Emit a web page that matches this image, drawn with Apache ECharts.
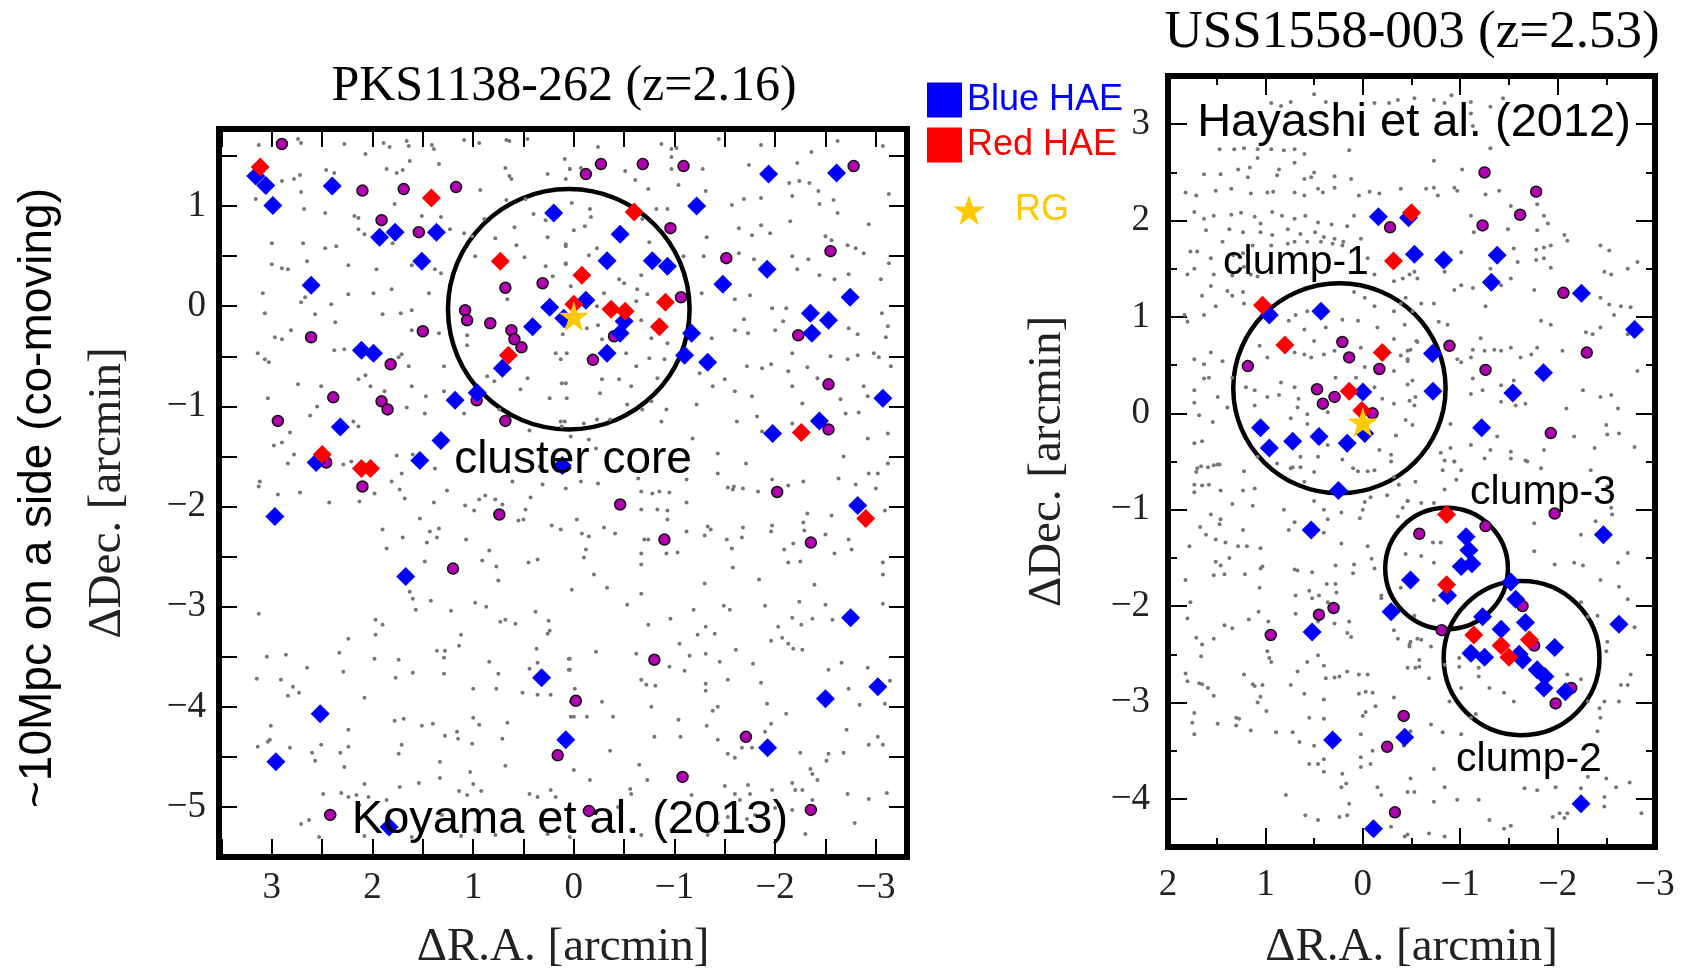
<!DOCTYPE html>
<html>
<head>
<meta charset="utf-8">
<title>HAE maps</title>
<script src="https://cdn.jsdelivr.net/npm/echarts@6/dist/echarts.min.js"></script>
<style>
  html, body { margin: 0; padding: 0; background: #fff; }
  #chart { width: 1690px; height: 976px; }
</style>
</head>
<body>
<div id="chart"></div>
<script>
// offsets in arcmin, [dRA, dDec]
// PKS1138-262 field
var leftGray = [
  [3.13,1.61],[2.74,1.67],[2.71,1.63],[2.28,1.62],[2.07,1.52],[1.89,1.63],[1.83,1.59],[1.66,1.65],[1.64,1.60],[1.41,1.61],[1.39,1.57],[1.09,1.66],[0.94,1.63],[0.67,1.66],[0.64,1.65],[0.46,1.67],[0.09,1.47],[0.04,1.37],[1.63,1.45],[1.34,1.42],[1.86,1.37],[1.76,1.33],[1.70,1.36],[2.46,1.36],[2.38,1.33],[2.72,1.31],[2.78,1.27],[2.90,1.25],[0.68,1.38],[0.64,1.30],[0.62,1.27],[0.26,1.32],[0.08,1.27],[3.16,1.07],[2.71,1.14],[2.68,0.97],[2.47,0.93],[0.93,1.16],[0.48,1.07],[0.67,1.06],[1.78,1.02],[2.18,0.90],[2.14,0.88],[1.51,0.90],[1.32,0.89],[0.89,0.87],[0.40,0.92],[0.28,0.86],[3.00,0.63],[2.69,0.63],[2.47,0.58],[2.36,0.60],[2.14,0.77],[2.08,0.72],[1.80,0.63],[1.23,0.77],[1.09,0.73],[1.01,0.70],[0.78,0.68],[0.59,0.79],[0.57,0.61],[0.08,0.62],[0.26,0.69],[0.49,0.49],[3.00,0.42],[2.90,0.38],[2.84,0.37],[2.65,0.45],[2.24,0.41],[1.96,0.37],[1.61,0.41],[1.38,0.37],[1.32,0.33],[0.98,0.50],[0.28,0.40],[0.08,0.42],[3.09,0.13],[2.71,0.04],[2.67,0.09],[2.24,0.12],[1.99,0.13],[1.81,0.17],[1.44,0.13],[0.66,0.07],[0.21,0.30],[3.07,-0.07],[2.57,-0.08],[2.41,0.02],[1.90,-0.08],[1.72,-0.07],[1.61,-0.04],[1.61,-0.24],[1.34,-0.27],[2.37,-0.16],[2.81,-0.24],[2.97,-0.31],[2.90,-0.33],[1.06,-0.29],[0.11,-0.28],[3.14,-0.47],[3.07,-0.53],[3.03,-0.56],[2.38,-0.44],[2.28,-0.43],[1.74,-0.51],[1.71,-0.48],[1.64,-0.60],[2.07,-0.69],[1.29,-0.60],[1.06,-0.39],[0.18,-0.47],[0.13,-0.53],[0.46,-0.72],[0.08,-0.77],[2.74,-0.78],[2.51,-0.80],[2.14,-0.73],[2.02,-0.80],[1.88,-0.85],[1.61,-0.80],[1.47,-0.90],[1.29,-0.85],[0.86,-0.70],[0.79,-0.75],[0.53,-0.83],[0.24,-0.92],[3.04,-0.92],[2.55,-1.00],[2.62,-1.09],[2.19,-1.15],[2.14,-1.20],[2.82,-1.26],[2.90,-1.36],[2.98,-1.39],[1.66,-1.01],[1.48,-1.07],[1.09,-1.07],[0.74,-1.03],[0.13,-1.15],[0.12,-1.20],[0.44,-1.24],[0.34,-1.60],[2.78,-1.48],[2.84,-1.57],[2.29,-1.58],[2.21,-1.55],[1.76,-1.49],[1.60,-1.48],[1.38,-1.62],[1.71,-1.67],[1.81,-1.75],[3.12,-1.75],[3.13,-1.80],[1.73,-1.83],[0.61,-1.75],[0.31,-1.78],
  [-0.24,1.59],[-0.87,1.62],[-0.97,1.57],[-0.97,1.49],[-1.02,1.58],[-1.44,1.67],[-1.86,1.61],[-2.36,1.54],[-2.62,1.65],[-3.07,1.60],[0.04,1.37],[-0.07,1.38],[-0.51,1.35],[-0.61,1.26],[-0.74,1.17],[-0.97,1.37],[-1.04,1.21],[-1.28,1.37],[-1.74,1.41],[-2.22,1.43],[-2.34,1.23],[-2.43,1.15],[-2.14,1.23],[-2.24,1.25],[-3.13,1.12],[0.02,1.03],[-0.16,0.97],[-0.17,0.89],[-0.82,0.97],[-0.93,0.97],[-1.31,1.15],[-1.57,1.01],[-1.69,1.07],[-1.86,1.08],[-2.17,1.10],[-2.44,1.02],[-2.58,1.06],[-2.62,0.93],[0.00,0.76],[-0.11,0.80],[-0.23,0.58],[0.08,0.60],[-0.68,0.87],[-0.75,0.64],[-1.32,0.69],[-1.64,0.78],[-1.77,0.71],[-1.86,0.81],[-1.95,0.73],[-2.15,0.85],[-2.50,0.70],[-2.56,0.66],[-2.72,0.61],[-2.80,0.58],[-2.88,0.53],[-2.93,0.82],[0.08,0.43],[-0.15,0.51],[-0.45,0.27],[-0.50,0.23],[-0.67,0.31],[-0.63,0.17],[-1.09,0.50],[-1.29,0.50],[-1.64,0.53],[-1.79,0.47],[-2.17,0.50],[-2.22,0.37],[-2.33,0.47],[-2.44,0.31],[-2.59,0.27],[-2.73,0.32],[-3.05,0.27],[-3.13,0.43],[0.03,0.20],[-0.30,0.13],[-0.23,0.00],[-0.62,0.05],[-0.73,0.12],[-1.27,0.13],[-1.60,0.07],[-1.75,0.11],[-1.69,-0.13],[-1.97,-0.02],[-2.11,-0.02],[-2.08,-0.15],[-3.06,-0.07],[-3.12,-0.20],[-3.10,-0.31],[-2.73,-0.22],[-2.82,-0.28],[0.09,-0.20],[-0.13,-0.22],[-0.24,-0.19],[-0.28,-0.33],[-0.67,-0.14],[-0.77,-0.32],[-0.93,-0.37],[-1.37,-0.32],[-1.60,-0.24],[-1.73,-0.27],[-2.00,-0.24],[-2.17,-0.47],[-2.55,-0.50],[-2.72,-0.53],[-2.82,-0.49],[-2.98,-0.47],[-3.03,-0.51],[0.07,-0.47],[-0.52,-0.47],[-0.62,-0.60],[-0.75,-0.52],[-0.90,-0.53],[-1.25,-0.67],[-1.38,-0.80],[-1.50,-0.73],[-1.60,-0.85],[-1.72,-0.60],[-1.87,-0.62],[-1.96,-0.58],[-2.13,-0.65],[-2.17,-0.80],[-2.32,-0.61],[-2.42,-0.72],[-2.65,-0.93],[-2.92,-0.90],[-2.88,-0.80],[-3.15,-0.60],[0.12,-0.77],[0.07,-0.92],[-0.28,-0.73],[-0.45,-0.73],[-0.57,-0.80],[-0.26,-0.87],[-0.83,-0.72],[-0.53,-0.98],[-0.68,-1.03],[-0.77,-0.95],[-0.92,-1.03],[-0.87,-1.15],[-1.22,-0.98],[-1.62,-1.15],[-1.77,-0.90],[-2.27,-0.97],[-2.70,-1.07],[-2.83,-1.06],[-3.12,-1.27],[0.09,-1.15],[-0.10,-1.17],[-0.23,-1.13],[-0.36,-1.13],[0.03,-1.30],[-0.15,-1.33],[-0.22,-1.42],[-1.18,-1.32],[-1.43,-1.47],[-1.71,-1.57],[-1.82,-1.10],[-1.87,-1.25],[-2.17,-1.17],[-2.68,-1.50],[-2.92,-1.32],[-3.02,-1.67],[-3.12,-1.57],[-0.07,-1.75],[-0.24,-1.77],[-0.64,-1.72],[-0.78,-1.87],[-1.12,-1.73],[-1.43,-1.67],[-1.53,-1.81],[-1.58,-1.83],[-1.68,-1.82],[-1.97,-1.73],[-2.13,-1.79],[-2.28,-1.75],[-2.63,-1.72],[-2.80,-1.78],[-2.93,-1.67],
  [2.94,-1.88],[2.72,-1.86],[2.43,-1.96],[2.13,-1.95],[1.98,-1.87],[1.68,-1.92],[1.39,-1.96],[1.26,-1.84],[1.08,-1.99],[0.99,-2.04],[0.94,-1.93],[0.88,-1.89],[0.78,-1.93],[0.71,-1.98],[0.55,-2.14],[0.50,-2.13],[0.48,-2.03],[0.43,-1.91],[0.22,-2.19],[0.13,-2.23],[0.08,-1.82],[1.90,-2.23],[1.86,-2.42],[1.70,-2.31],[1.53,-2.12],[1.46,-2.36],[1.43,-2.25],[1.36,-2.31],[1.34,-2.22],[1.07,-2.33],[1.48,-2.55],[0.84,-2.44],[0.91,-2.54],[0.77,-2.60],[0.75,-2.74],[0.45,-2.56],[0.36,-2.53],[1.63,-2.85],[1.60,-2.92],[1.57,-3.03],[1.42,-2.94],[1.22,-3.04],[0.98,-2.96],[0.87,-3.00],[3.13,-3.07],[1.97,-3.13],[1.90,-3.18],[1.97,-3.28],[2.24,-3.32],[1.12,-3.28],[1.14,-3.39],[0.73,-3.15],[0.68,-3.13],[0.58,-3.17],[0.38,-3.05],[0.25,-3.14],[0.24,-3.24],[0.26,-3.27],[3.05,-3.50],[2.86,-3.48],[2.65,-3.61],[2.33,-3.46],[2.29,-3.65],[1.98,-3.52],[1.74,-3.53],[1.36,-3.44],[1.28,-3.44],[1.29,-3.51],[0.84,-3.55],[0.37,-3.42],[0.36,-3.56],[0.44,-3.62],[0.04,-3.52],[0.04,-3.63],[3.15,-3.72],[2.91,-3.73],[2.84,-3.89],[2.79,-3.80],[2.73,-3.86],[2.08,-3.91],[1.77,-3.71],[1.60,-3.66],[1.29,-3.67],[0.75,-3.67],[1.00,-3.82],[0.77,-3.82],[0.51,-3.86],[0.36,-3.88],[0.23,-3.88],[0.03,-3.95],[3.01,-4.19],[3.02,-4.33],[3.04,-4.35],[3.14,-4.40],[2.82,-4.41],[2.60,-4.46],[2.57,-4.54],[2.51,-4.38],[2.28,-4.60],[2.32,-4.46],[2.24,-4.40],[2.24,-4.23],[1.78,-4.14],[1.69,-4.12],[1.51,-4.19],[1.40,-4.17],[1.28,-4.29],[1.16,-4.25],[1.15,-4.32],[1.01,-4.37],[1.00,-4.11],[0.94,-4.18],[0.71,-4.32],[0.66,-4.16],[0.03,-4.10],[1.74,-4.47],[1.71,-4.38],[1.33,-4.55],[1.33,-4.71],[1.03,-4.65],[0.68,-4.59],[2.08,-4.77],[1.73,-4.80],[1.54,-4.76],[1.14,-4.84],[1.06,-4.88],[1.00,-4.77],[0.92,-4.84],[0.44,-4.87],[0.36,-4.90],[0.23,-4.83],[0.18,-4.90],[2.49,-4.87],[2.31,-4.86],[2.24,-4.90],[2.16,-4.88],[2.04,-4.90],[1.86,-4.93],[2.13,-4.98],[2.71,-5.17],[2.63,-5.13],[2.53,-5.30],[2.08,-5.29],[1.61,-5.30],[1.12,-5.29],[0.98,-5.23],[0.78,-5.28],[0.26,-5.27],[0.04,-5.30],[1.31,-5.08],[1.01,-5.03],
  [-0.67,-1.85],[-0.85,-1.85],[-0.95,-1.86],[-1.12,-1.96],[-1.59,-1.80],[-1.83,-1.85],[-3.00,-1.82],[-0.03,-2.13],[-0.08,-2.27],[-0.15,-2.30],[-0.30,-2.21],[-0.41,-2.27],[-0.67,-2.03],[-0.83,-2.03],[-0.93,-2.04],[-0.93,-2.13],[-0.70,-2.33],[-0.74,-2.33],[-0.67,-2.47],[-0.67,-2.58],[-0.92,-2.47],[-1.03,-2.46],[-1.12,-2.25],[-1.30,-2.29],[-1.33,-2.20],[-1.36,-2.23],[-1.52,-2.33],[-1.57,-2.42],[-1.67,-2.31],[-1.68,-2.21],[-1.97,-2.19],[-1.96,-2.25],[-2.09,-2.43],[-2.18,-2.37],[-2.28,-2.16],[-2.32,-2.07],[-2.29,-2.24],[-2.50,-2.28],[-2.56,-2.09],[-2.59,-2.47],[-2.73,-2.33],[-2.76,-2.43],[-3.07,-2.56],[-3.07,-2.68],[-3.09,-2.04],[-0.12,-2.43],[-0.10,-2.51],[-0.20,-2.68],[0.02,-2.83],[-0.33,-2.81],[-0.67,-2.87],[-0.53,-2.98],[-0.74,-3.18],[-0.96,-3.12],[-1.19,-3.03],[-1.30,-2.77],[-1.49,-2.99],[-1.55,-3.03],[-1.58,-2.61],[-1.84,-2.73],[-1.90,-2.99],[-2.13,-2.56],[-2.25,-2.55],[-2.24,-2.95],[-2.39,-2.78],[-2.37,-3.12],[-2.50,-2.98],[-2.57,-3.13],[-2.17,-3.11],[-2.26,-3.18],[-2.03,-3.20],[-3.07,-2.97],[-0.22,-3.45],[0.05,-3.52],[0.05,-3.63],[-0.62,-3.47],[-0.95,-3.60],[-1.10,-3.64],[-1.05,-3.37],[-1.23,-3.28],[-1.31,-3.20],[-1.40,-3.27],[-1.15,-3.49],[-1.31,-3.47],[-1.45,-3.55],[-1.53,-3.73],[-1.61,-3.43],[-1.78,-3.57],[-1.86,-3.76],[-1.96,-3.34],[-2.07,-3.31],[-2.13,-3.37],[-2.18,-3.42],[-2.27,-3.43],[-2.53,-3.63],[-2.66,-3.56],[-2.73,-3.82],[-2.92,-3.61],[-3.14,-3.74],[-3.09,-3.97],[-2.84,-3.98],[-0.01,-3.82],[0.00,-4.10],[-0.13,-4.10],[-0.28,-3.95],[-0.39,-4.10],[-0.77,-4.00],[-0.67,-3.73],[-0.72,-3.78],[-0.81,-3.79],[-1.31,-3.77],[-1.31,-3.84],[-1.43,-4.00],[-1.38,-4.04],[-1.04,-4.13],[-1.32,-4.19],[-1.92,-3.97],[-2.11,-4.07],[-1.96,-4.17],[-1.90,-4.25],[-1.67,-4.41],[-1.77,-4.41],[-1.53,-4.47],[-1.60,-4.51],[-2.25,-4.46],[-2.53,-4.47],[-2.51,-4.54],[-2.68,-4.46],[-2.71,-4.23],[-3.02,-4.30],[-3.07,-4.38],[-2.93,-4.38],[0.00,-4.63],[-0.16,-4.73],[-0.36,-4.44],[-0.65,-4.58],[-0.73,-4.73],[-0.56,-4.82],[-0.57,-4.87],[-0.44,-5.00],[-0.80,-4.30],[-1.06,-4.30],[-1.43,-4.33],[-1.17,-4.88],[-1.50,-4.79],[-1.60,-4.87],[-1.73,-4.78],[-1.75,-4.87],[-1.65,-4.93],[-1.97,-4.83],[-2.17,-4.76],[-2.20,-4.83],[-2.27,-4.83],[-2.35,-4.62],[-2.37,-4.67],[-2.42,-4.73],[-2.37,-4.93],[-2.72,-4.87],[-2.93,-4.92],[-3.11,-4.86],[-2.79,-5.16],[-2.30,-5.27],[-0.57,-5.23],[-0.67,-5.28],[-0.97,-5.23],[-1.33,-5.28],[-1.43,-5.16],[-1.53,-5.10],[-1.72,-5.12],[-1.80,-5.08],[-2.00,-5.01],[-2.17,-5.03]
];
var leftPurple = [
  [2.90,1.62],[2.10,1.155],[1.69,1.17],[1.17,1.19],[1.91,0.86],[1.54,0.74],[0.68,0.185],[0.31,0.23],[1.08,-0.04],[1.06,-0.14],[0.83,-0.17],[0.62,-0.24],[0.59,-0.33],[0.52,-0.41],[2.61,-0.31],[1.50,-0.25],[1.82,-0.58],[2.39,-0.91],[1.91,-0.95],[1.85,-1.03],[0.965,-0.94],[2.94,-1.145],[0.68,-1.145],[2.46,-1.56],[2.10,-1.80],
  [-0.12,1.32],[-0.27,1.42],[-0.685,1.42],[-1.09,1.40],[-2.78,1.40],[-0.96,0.78],[-1.515,0.48],[-2.55,0.55],[-1.065,0.09],[-0.40,-0.30],[-0.19,-0.535],[-2.23,-0.29],[-2.53,-0.78],[-2.53,-1.23],[-2.02,-1.855],
  [0.74,-2.08],[1.20,-2.62],[0.16,-4.485],[2.42,-5.08],
  [-0.46,-1.98],[-0.90,-2.33],[-2.355,-2.36],[-0.80,-3.53],[-0.02,-3.94],[-1.71,-4.30],[-1.08,-4.70],[-0.15,-5.04],[-2.355,-5.03]
];
var leftBlue = [
  [3.16,1.30],[3.06,1.205],[2.99,1.006],[2.40,1.20],[1.93,0.69],[1.775,0.74],[1.365,0.74],[1.51,0.45],[2.61,0.21],[0.20,0.93],[0.24,-0.01],[0.10,-0.12],[0.41,-0.205],[0.71,-0.62],[2.11,-0.44],[1.99,-0.47],[1.18,-0.94],[0.96,-0.865],[2.32,-1.205],[2.56,-1.56],[1.53,-1.54],[1.32,-1.34],[0.115,-1.59],
  [-0.46,0.72],[-0.33,0.455],[-0.78,0.455],[-0.93,0.40],[-1.22,1.00],[-1.48,0.22],[-1.92,0.37],[-1.935,1.32],[-2.61,1.33],[-2.745,0.09],[-2.35,-0.07],[-2.53,-0.14],[-2.365,-0.27],[-0.12,0.06],[-0.50,-0.15],[-0.46,-0.27],[-0.33,-0.47],[-1.17,-0.27],[-1.10,-0.49],[-1.33,-0.56],[-3.07,-0.92],[-1.975,-1.27],[-2.44,-1.145],
  [2.97,-2.10],[1.67,-2.70],[0.32,-3.71],[2.52,-4.07],[2.96,-4.55],[0.08,-4.33],[1.835,-5.20],
  [-2.82,-1.99],[-2.75,-3.11],[-3.02,-3.80],[-2.50,-3.92],[-1.925,-4.41]
];
var leftRed = [
  [3.115,1.39],[1.415,1.08],[0.73,0.45],[0.65,-0.49],[2.50,-1.48],[2.11,-1.62],[2.02,-1.62],[0.00,0.02],
  [-0.60,0.94],[-0.08,0.31],[-0.37,-0.03],[-0.51,-0.05],[-0.91,0.04],[-0.85,-0.205],[-2.26,-1.26],[-2.90,-2.12]
];
var leftRG = [[0.0,-0.10]];
var leftRings = [[0.05,-0.03,1.2]];   // [dRA, dDec, radius]

// USS1558-003 field
var rightGray = [
  [0.50,3.31],[0.94,3.22],[0.84,3.19],[0.74,3.23],[0.38,3.23],[-0.12,3.22],[-0.27,3.22],[-0.36,3.25],[1.47,2.74],[1.32,2.74],[1.22,2.75],[1.08,2.74],[0.94,2.74],[0.81,2.73],[0.70,2.74],[0.60,2.69],[1.08,2.65],[0.86,2.53],[0.70,2.60],[1.28,2.53],[1.16,2.55],[0.50,2.50],[0.88,2.47],[0.53,2.45],[0.29,2.46],[0.14,2.73],[1.63,2.48],[1.46,2.48],[1.18,2.45],[0.60,2.43],[1.82,2.29],[1.71,2.26],[1.51,2.31],[1.35,2.33],[1.15,2.28],[0.98,2.29],[0.92,2.30],[0.70,2.29],[0.60,2.26],[0.46,2.33],[0.41,2.29],[0.29,2.34],[0.04,2.26],[-0.07,2.30],[-0.17,2.28],[-0.39,2.33],[1.73,2.09],[1.63,2.02],[1.53,2.05],[1.35,2.06],[1.25,2.08],[1.11,2.04],[1.05,1.97],[0.93,2.09],[0.83,2.05],[0.70,2.02],[0.59,2.05],[0.46,1.98],[0.32,1.96],[0.12,2.43],[0.09,2.05],[0.16,1.94],[1.61,1.90],[1.37,1.91],[1.23,1.88],[1.05,1.88],[0.93,1.85],[0.77,1.91],[0.64,1.86],[0.49,1.88],[0.40,1.83],[0.29,1.81],[0.20,1.78],[0.02,1.81],[1.77,1.68],[1.70,1.68],[1.44,1.78],[1.56,1.61],[1.33,1.64],[1.23,1.66],[1.13,1.74],[0.94,1.74],[0.77,1.76],[0.70,1.78],[0.57,1.78],[0.43,1.78],[0.31,1.76],[0.21,1.74],[-0.05,1.61],[1.80,1.44],[1.73,1.50],[1.53,1.44],[1.34,1.43],[1.22,1.52],[1.15,1.44],[1.08,1.42],[1.56,1.32],[1.39,1.27],[1.23,1.26],[-0.12,1.44],[-0.32,1.37],[-0.41,1.40],[-0.48,1.44],[-0.53,1.47],[-0.56,1.40],[1.83,1.02],[1.80,0.95],[1.65,1.22],[1.63,1.02],[1.51,1.11],[1.34,1.22],[1.22,1.14],[0.09,1.26],[-0.02,1.20],[-0.12,1.11],[-0.32,1.06],[-0.39,1.14],[-0.51,1.06],[1.73,0.56],[1.63,0.51],[1.56,0.63],[1.44,0.54],[1.63,0.36],[1.58,0.37],[1.34,0.37],[1.73,0.24],[1.49,0.17],[1.39,0.06],[1.20,0.27],[1.11,0.08],[1.73,0.11],[1.68,-0.02],[1.73,-0.31],[1.65,-0.29],[1.54,-0.09],[1.49,-0.53],[1.70,-0.57],[1.59,-0.56],[0.76,0.96],[0.69,1.02],[0.57,1.06],[0.60,0.87],[0.50,0.75],[0.38,0.89],[0.21,0.97],[0.05,0.96],[-0.15,0.89],[-0.32,0.77],[-0.43,0.92],[-0.46,0.65],[-0.55,0.75],[1.06,0.70],[0.98,0.58],[0.70,0.63],[0.60,0.61],[0.53,0.58],[0.40,0.61],[0.29,0.65],[0.02,0.68],[-0.02,0.48],[-0.32,0.44],[-0.46,0.56],[-0.51,0.34],[-0.48,0.13],[-0.32,0.10],[-0.34,-0.23],[-0.29,-0.43],[-0.51,-0.12],[1.11,0.24],[0.98,0.17],[0.84,0.32],[0.86,0.19],[0.70,0.27],[0.67,0.06],[0.66,0.15],[0.57,-0.01],[0.36,0.01],[0.28,0.37],[0.07,0.37],[-0.12,0.27],[-0.20,0.15],[0.74,-0.05],[0.57,-0.11],[0.46,-0.45],[0.36,-0.33],[0.21,-0.48],[0.05,-0.60],[-0.17,-0.38],[-0.12,-0.59],[1.08,-0.45],[0.88,-0.52],[0.74,-0.57],[0.64,-0.45],[1.22,-0.60],
  [-0.53,3.27],[-0.73,3.25],[-0.84,3.22],[-0.91,3.30],[-1.11,3.23],[-1.31,3.18],[-1.11,3.11],[-1.13,2.98],[-1.31,2.75],[-1.44,3.27],[-0.73,2.62],[-1.02,2.53],[-0.77,2.26],[-0.65,2.33],[-0.73,2.34],[-0.94,2.34],[-0.97,2.31],[-1.26,2.27],[-1.40,2.31],[-1.52,2.15],[-1.79,2.17],[-1.86,2.05],[-1.90,1.97],[-1.79,1.90],[-1.66,2.05],[-1.49,1.91],[-1.14,1.88],[-1.11,2.05],[-1.01,1.67],[-0.84,1.47],[-1.55,1.71],[-1.78,1.70],[-1.86,1.72],[-1.93,1.74],[-2.07,1.85],[-2.10,1.79],[-2.44,1.74],[-2.53,1.69],[-1.59,1.57],[-1.78,1.59],[-1.86,1.61],[-1.93,1.51],[-1.52,1.40],[-1.31,1.50],[-1.01,1.33],[-0.94,1.28],[-1.13,1.30],[-1.42,1.33],[-1.76,1.28],[-2.48,1.47],[-2.55,1.44],[-2.72,1.50],[-2.82,1.57],[-0.44,1.20],[-0.60,1.14],[-0.73,1.14],[-1.26,1.11],[-2.44,1.20],[-2.53,1.13],[-2.65,1.11],[-2.75,1.10],[-2.58,1.02],[-0.78,0.95],[-0.87,0.92],[-0.56,0.74],[-0.49,0.66],[-0.39,0.60],[-0.46,0.54],[-0.97,0.56],[-1.01,0.53],[-1.13,0.66],[-1.25,0.65],[-1.35,0.66],[-1.42,0.65],[-1.21,0.78],[-1.11,0.58],[-1.52,0.68],[-1.62,0.58],[-1.73,0.61],[-1.79,0.68],[-1.83,0.96],[-1.93,0.92],[-2.05,0.65],[-2.29,0.84],[-2.36,0.82],[-2.44,0.89],[-2.72,0.82],[-0.46,0.30],[-0.54,0.17],[-0.53,0.08],[-0.44,-0.07],[-1.13,0.36],[-1.11,0.20],[-1.23,0.24],[-1.42,0.29],[-1.55,0.34],[-1.42,0.12],[-1.57,0.08],[-1.67,0.10],[-2.09,0.05],[-2.26,0.24],[-2.44,0.17],[-2.55,0.19],[-2.62,0.05],[-2.82,0.44],[-0.90,-0.11],[-1.11,-0.33],[-0.90,-0.36],[-0.80,-0.41],[-0.84,-0.49],[-0.94,-0.50],[-1.31,-0.38],[-1.38,-0.24],[-1.52,-0.40],[-1.69,-0.50],[-1.86,-0.38],[-2.17,-0.24],[-2.38,-0.36],[-2.50,-0.12],[-2.51,-0.22],[-2.63,-0.21],[-2.79,-0.35],
  [1.71,-0.61],[1.66,-0.55],[1.53,-0.54],[1.47,-0.53],[1.73,-0.74],[1.73,-0.82],[1.65,-0.75],[1.58,-0.74],[1.46,-0.80],[1.23,-0.80],[1.11,-0.78],[1.34,-0.94],[1.13,-0.96],[0.72,-0.56],[0.64,-0.56],[0.50,-0.61],[0.60,-0.71],[0.10,-0.57],[-0.05,-0.60],[-0.29,-0.50],[-0.32,-0.66],[-0.37,-0.74],[-0.08,-0.87],[-0.02,-0.92],[-0.25,-0.85],[1.56,-1.05],[1.46,-1.10],[1.67,-1.18],[1.47,-1.15],[1.61,-1.26],[1.51,-1.31],[1.41,-1.34],[1.23,-1.21],[1.28,-1.38],[1.19,-1.38],[1.05,-1.40],[1.78,-1.38],[0.81,-1.00],[0.76,-1.21],[0.70,-1.13],[0.50,-0.91],[0.40,-1.00],[0.36,-1.10],[0.22,-1.03],[0.03,-1.09],[0.00,-1.00],[-0.41,-0.98],[-0.46,-0.91],[-0.36,-1.07],[0.40,-1.24],[0.22,-1.35],[-0.05,-1.38],[-0.09,-1.51],[1.51,-1.54],[1.37,-1.50],[1.46,-1.58],[1.42,-1.67],[1.53,-1.68],[1.82,-1.73],[1.21,-1.67],[1.05,-1.61],[1.03,-1.59],[1.06,-1.81],[0.70,-1.62],[0.67,-1.63],[0.52,-1.65],[0.37,-1.77],[0.28,-1.77],[0.09,-1.57],[0.10,-1.66],[0.28,-1.58],[-0.12,-1.61],[-0.19,-1.89],[-0.19,-1.92],[-0.39,-1.81],[1.77,-1.96],[1.80,-2.13],[1.71,-2.33],[1.65,-2.40],[1.53,-2.34],[1.42,-2.20],[1.34,-2.23],[1.17,-2.14],[1.07,-2.06],[0.97,-2.16],[1.66,-2.52],[0.69,-1.89],[0.55,-1.84],[0.52,-1.92],[0.45,-1.89],[0.36,-1.96],[0.27,-1.86],[0.69,-2.08],[0.46,-2.16],[0.29,-2.18],[0.14,-2.16],[0.12,-2.32],[0.16,-2.28],[-0.32,-2.25],[-0.36,-2.34],[-0.48,-2.40],[-0.49,-2.37],[-0.56,-2.34],[-0.58,-2.63],[-0.46,-2.64],[1.82,-2.70],[1.80,-2.78],[1.68,-2.80],[1.65,-2.81],[1.59,-2.85],[1.53,-2.93],[1.22,-2.71],[1.13,-2.81],[1.11,-2.83],[1.03,-2.82],[1.05,-2.94],[0.98,-2.47],[0.96,-2.54],[0.94,-2.58],[1.08,-3.00],[0.99,-3.09],[0.74,-2.82],[0.67,-2.68],[0.57,-2.58],[0.46,-2.51],[0.40,-2.62],[0.38,-2.75],[0.29,-2.74],[0.24,-2.73],[0.16,-2.68],[0.04,-2.71],[-0.05,-2.71],[0.04,-2.91],[-0.03,-2.89],[-0.10,-2.90],[-0.13,-3.04],[-0.32,-2.95],[0.60,-2.91],[0.40,-2.97],[1.73,-3.11],[1.75,-3.21],[1.73,-3.33],[1.49,-3.22],[1.30,-3.16],[1.27,-3.17],[1.30,-3.24],[1.15,-3.29],[0.89,-3.31],[0.72,-3.31],[0.65,-3.41],[0.55,-3.16],[0.40,-3.17],[0.50,-3.45],[0.55,-3.64],[0.46,-3.64],[0.40,-3.59],[0.40,-3.72],[0.22,-3.88],[0.17,-3.84],[0.21,-3.74],[0.00,-3.14],[-0.03,-3.10],[0.02,-3.33],[-0.10,-3.50],[0.02,-3.57],[0.02,-3.67],[-0.08,-3.64],[-0.15,-3.88],[-0.19,-3.96],[-0.46,-3.93],[0.14,-4.05],[0.24,-4.19],[0.16,-4.17],[0.59,-4.17],[0.46,-4.22],[0.79,-3.96],[-0.29,-4.29],[-0.43,-4.39],
  [-0.94,-0.50],[-1.25,-0.47],[-1.52,-0.47],[-1.67,-0.49],[-0.82,-0.59],[-1.01,-0.59],[-0.54,-0.71],[-0.84,-0.79],[-0.96,-0.69],[-0.73,-0.93],[-0.46,-0.91],[-0.60,-0.93],[-1.76,-1.14],[-1.97,-1.57],[-1.76,-1.43],[-2.24,-1.26],[-2.26,-1.58],[-2.17,-1.55],[-2.44,-1.73],[-2.62,-1.55],[-2.72,-1.45],[-2.63,-1.80],[-2.72,-1.93],[-2.41,-2.10],[-2.31,-2.11],[-2.79,-2.22],[-2.51,-2.37],[-2.50,-2.47],[-2.75,-2.71],[-2.65,-2.82],[-2.72,-2.82],[-2.63,-2.99],[-2.48,-2.99],[-2.24,-2.76],[-2.31,-2.99],[-2.10,-2.71],[-0.44,-1.46],[-0.60,-1.48],[-0.72,-1.34],[-0.80,-1.34],[-0.73,-1.55],[-0.73,-1.94],[-0.53,-2.10],[-0.60,-2.35],[-0.48,-2.42],[-0.70,-2.42],[-0.58,-2.56],[-0.54,-2.64],[-0.68,-2.75],[-0.84,-2.61],[-0.99,-2.54],[-0.99,-2.63],[-1.19,-2.64],[-1.19,-2.73],[-1.30,-2.85],[-1.45,-2.90],[-1.55,-2.99],[-0.89,-2.99],[-1.01,-2.85],[-0.70,-3.23],[-0.49,-3.30],[-0.82,-3.31],[-1.01,-3.33],[-1.11,-3.16],[-1.16,-3.12],[-0.42,-3.45],[-0.73,-3.69],[-0.49,-3.79],[-0.53,-3.93],[-0.84,-3.88],[-0.73,-4.03],[-0.97,-4.01],[-1.19,-4.01],[-1.30,-4.22],[-1.45,-4.31],[-1.52,-4.28],[-1.95,-4.19],[-2.07,-4.20],[-2.10,-4.15],[-2.24,-3.89],[-2.48,-3.98],[-2.60,-3.88],[-2.48,-4.08],[-2.50,-3.79],[-2.74,-3.83],[-2.31,-3.77],[-1.98,-3.88],[-1.79,-3.91],[-1.66,-3.89],[-2.02,-4.15],[-0.84,-4.39],[-0.68,-4.36],[-0.46,-4.37],[-2.86,-4.15],[-2.41,-3.30],[-2.44,-3.16],[-2.43,-3.06],[-1.83,-0.57],[-2.39,-1.12],[-2.34,-0.59],[-2.51,-0.76],[-2.55,-0.98],[-2.56,-1.05],[-2.24,-1.96]
];
var rightPurple = [
  [-0.28,1.93],[0.21,0.74],[0.14,0.58],[-0.17,0.46],[1.18,0.49],[0.47,0.25],[0.29,0.17],[0.41,0.10],[-0.10,0.00],
  [-1.25,2.50],[-1.78,2.30],[-1.615,2.06],[-1.23,1.95],[-2.06,1.25],[-0.89,0.70],[-1.26,0.45],[-2.30,0.63],[-1.93,-0.205],
  [-0.58,-1.25],[0.30,-2.02],[0.45,-2.09],[0.945,-2.30],[-0.42,-3.14],[-0.25,-3.46],[-0.33,-4.14],
  [-1.26,-1.17],[-1.97,-1.04],[-1.64,-2.00],[-0.81,-2.25],[-1.76,-2.41],[-1.98,-3.01],[-2.14,-2.85]
];
var rightBlue = [
  [-0.16,2.04],[-0.53,1.65],[-0.47,2.03],[0.43,1.06],[0.96,1.02],[0.00,0.22],[1.05,-0.15],[0.96,-0.36],[0.72,-0.29],[0.45,-0.24],[0.16,-0.31],[-0.02,-0.21],
  [-0.83,1.59],[-1.38,1.64],[-1.32,1.36],[-2.245,1.245],[-2.79,0.87],[-0.715,0.62],[-1.855,0.42],[-0.72,0.23],[-1.54,0.21],[-1.22,-0.15],
  [0.25,-0.80],[0.53,-1.21],[-0.49,-1.73],[-0.29,-2.06],[0.52,-2.27],[0.31,-3.39],[-0.43,-3.36],[-0.11,-4.31],
  [-1.06,-1.28],[-1.09,-1.42],[-1.12,-1.56],[-1.01,-1.59],[-0.87,-1.89],[-1.52,-1.75],[-1.57,-1.93],[-1.23,-2.11],[-1.42,-2.24],[-1.67,-2.17],[-1.97,-2.43],[-1.11,-2.49],[-1.25,-2.53],[-1.605,-2.50],[-1.64,-2.56],[-1.79,-2.66],[-1.87,-2.73],[-1.86,-2.85],[-2.08,-2.89],[-2.63,-2.19],[-2.47,-1.26],[-2.24,-4.05]
];
var rightRed = [
  [-0.50,2.08],[-0.315,1.58],[1.03,1.12],[0.80,0.71],[-0.20,0.63],[0.14,0.23],[0.01,0.03],
  [-0.86,-1.05],[-0.86,-1.78],[-1.14,-2.30],[-1.71,-2.35],[-1.42,-2.41],[-1.50,-2.53]
];
var rightRG = [[0.0,-0.09]];
var rightRings = [[0.24,0.26,1.09],[-0.86,-1.61,0.63],[-1.63,-2.54,0.80]];

// ticks and labels
var leftXTicks = [-3,-2.5,-2,-1.5,-1,-0.5,0,0.5,1,1.5,2,2.5,3,3.5];
var leftXLabels = [-3,-2,-1,0,1,2,3];
var leftYTicks = [-5,-4.5,-4,-3.5,-3,-2.5,-2,-1.5,-1,-0.5,0,0.5,1,1.5];
var leftYLabels = [-5,-4,-3,-2,-1,0,1];
var rightXMajor = [-3,-2,-1,0,1,2];
var rightXMinor = [-2.5,-1.5,-0.5,0.5,1.5];
var rightYMajor = [-4,-3,-2,-1,0,1,2,3];
var rightYMinor = [-3.5,-2.5,-1.5,-0.5,0.5,1.5,2.5];

var SERIF = 'Liberation Serif';
var SANS = 'Liberation Sans';
var starPath = 'path://M50,0 L61.2,34.5 L97.6,34.5 L68.2,55.9 L79.4,90.5 L50,69.1 L20.6,90.5 L31.8,55.9 L2.4,34.5 L38.8,34.5 Z';

function minusFmt(v) {
  return v < 0 ? '\u2212' + Math.abs(v) : String(v);
}

function makeAxis(grid, pos, min, max, inverse, ticks, len, labels, margin, name, nameGap) {
  var a = {
    type: 'value', gridIndex: grid, position: pos, min: min, max: max, inverse: inverse,
    axisLine: { show: false, onZero: false },
    splitLine: { show: false },
    axisTick: { show: true, inside: true, length: len, customValues: ticks,
      lineStyle: { color: '#000', width: 2 } },
    axisLabel: { show: false }
  };
  if (labels) {
    a.axisLabel = { show: true, customValues: labels, margin: margin,
      fontFamily: SERIF, fontSize: 37, color: '#222', formatter: minusFmt };
  }
  if (name) {
    a.name = name;
    a.nameLocation = 'middle';
    a.nameGap = nameGap;
    a.nameTextStyle = { fontFamily: SERIF, fontSize: 47, color: '#222' };
  }
  return a;
}

function dots(data, xi, yi, name, symbol, size, style) {
  style.opacity = 1;
  return {
    type: 'scatter', name: name, xAxisIndex: xi, yAxisIndex: yi, data: data,
    symbol: symbol, symbolSize: size, itemStyle: style, silent: true
  };
}

function rings(data, xi, yi) {
  return {
    type: 'custom', xAxisIndex: xi, yAxisIndex: yi, data: data, silent: true,
    encode: { x: 0, y: 1 },
    renderItem: function (params, api) {
      var c = api.coord([api.value(0), api.value(1)]);
      var s = api.size([api.value(2), api.value(2)]);
      return {
        type: 'ellipse',
        shape: { cx: c[0], cy: c[1], rx: s[0], ry: s[1] },
        style: { fill: null, stroke: '#000', lineWidth: 4.5 }
      };
    }
  };
}

function fieldSeries(gray, purple, blue, red, rg, ring, xi, yi) {
  return [
    dots(gray, xi, yi, 'field', 'circle', 4, { color: '#777' }),
    rings(ring, xi, yi),
    dots(purple, xi, yi, 'other', 'circle', 11, { color: '#b000b0', borderColor: '#111', borderWidth: 1.5 }),
    dots(blue, xi, yi, 'Blue HAE', 'diamond', 19, { color: '#0000ff' }),
    dots(red, xi, yi, 'Red HAE', 'diamond', 19, { color: '#ff0000' }),
    dots(rg, xi, yi, 'RG', starPath, 30, { color: '#ffc800' })
  ];
}

function label(text, x, y, size, family, rot) {
  return {
    type: 'text', x: x, y: y, rotation: rot || 0, z: 100, silent: true,
    style: { text: text, fontSize: size, fontFamily: family, fill: '#000',
      align: 'center', verticalAlign: 'middle' }
  };
}

var chart = echarts.init(document.getElementById('chart'));

chart.setOption({
  animation: false,
  backgroundColor: '#fff',
  grid: [
    { left: 219, top: 129, width: 688, height: 734, show: true, borderColor: '#000', borderWidth: 6 },
    { left: 1168, top: 76, width: 487, height: 778, show: true, borderColor: '#000', borderWidth: 6 }
  ],
  xAxis: [
    makeAxis(0, 'bottom', -3.31, 3.525, true, leftXTicks, 18, leftXLabels, 13, '\u0394R.A. [arcmin]', 67),
    makeAxis(0, 'top', -3.31, 3.525, true, leftXTicks, 18),
    makeAxis(1, 'bottom', -3, 2, true, rightXMajor, 19, rightXMajor, 20, '\u0394R.A. [arcmin]', 77),
    makeAxis(1, 'top', -3, 2, true, rightXMajor, 19),
    makeAxis(1, 'bottom', -3, 2, true, rightXMinor, 9),
    makeAxis(1, 'top', -3, 2, true, rightXMinor, 9)
  ],
  yAxis: [
    makeAxis(0, 'left', -5.5, 1.77, false, leftYTicks, 18, leftYLabels, 13, '\u0394Dec. [arcmin]', 88),
    makeAxis(0, 'right', -5.5, 1.77, false, leftYTicks, 18),
    makeAxis(1, 'left', -4.5, 3.5, false, rightYMajor, 19, rightYMajor, 18, '\u0394Dec. [arcmin]', 97),
    makeAxis(1, 'right', -4.5, 3.5, false, rightYMajor, 19),
    makeAxis(1, 'left', -4.5, 3.5, false, rightYMinor, 9),
    makeAxis(1, 'right', -4.5, 3.5, false, rightYMinor, 9)
  ],
  legend: [
    {
      data: [
        { name: 'Blue HAE', icon: 'rect', textStyle: { color: '#0000ff' } },
        { name: 'Red HAE', icon: 'rect', textStyle: { color: '#ff0000' } }
      ],
      orient: 'vertical', left: 927, top: 82, padding: 0,
      itemWidth: 35, itemHeight: 35, itemGap: 9, selectedMode: false,
      textStyle: { fontFamily: SANS, fontSize: 36 }
    },
    {
      data: [{ name: 'RG', icon: starPath }],
      orient: 'vertical', left: 953, top: 192, padding: 0,
      itemWidth: 32, itemHeight: 31, selectedMode: false,
      textStyle: { fontFamily: SANS, fontSize: 36, color: '#ffc800', padding: [0, 0, 0, 25] }
    }
  ],
  graphic: [
    label('PKS1138-262 (z=2.16)', 564, 87, 50, SERIF),
    label('USS1558-003 (z=2.53)', 1412, 33, 53, SERIF),
    label('cluster core', 573, 460, 46, SANS),
    label('Koyama et al. (2013)', 570, 820, 47, SANS),
    label('Hayashi et al. (2012)', 1414, 123, 47, SANS),
    label('clump-1', 1296, 263, 41, SANS),
    label('clump-3', 1543, 493, 41, SANS),
    label('clump-2', 1529, 760, 41, SANS),
    label('~10Mpc on a side (co-moving)', 38, 498, 46, SANS, Math.PI / 2)
  ],
  series: fieldSeries(leftGray, leftPurple, leftBlue, leftRed, leftRG, leftRings, 0, 0)
    .concat(fieldSeries(rightGray, rightPurple, rightBlue, rightRed, rightRG, rightRings, 2, 2))
});
</script>
</body>
</html>
